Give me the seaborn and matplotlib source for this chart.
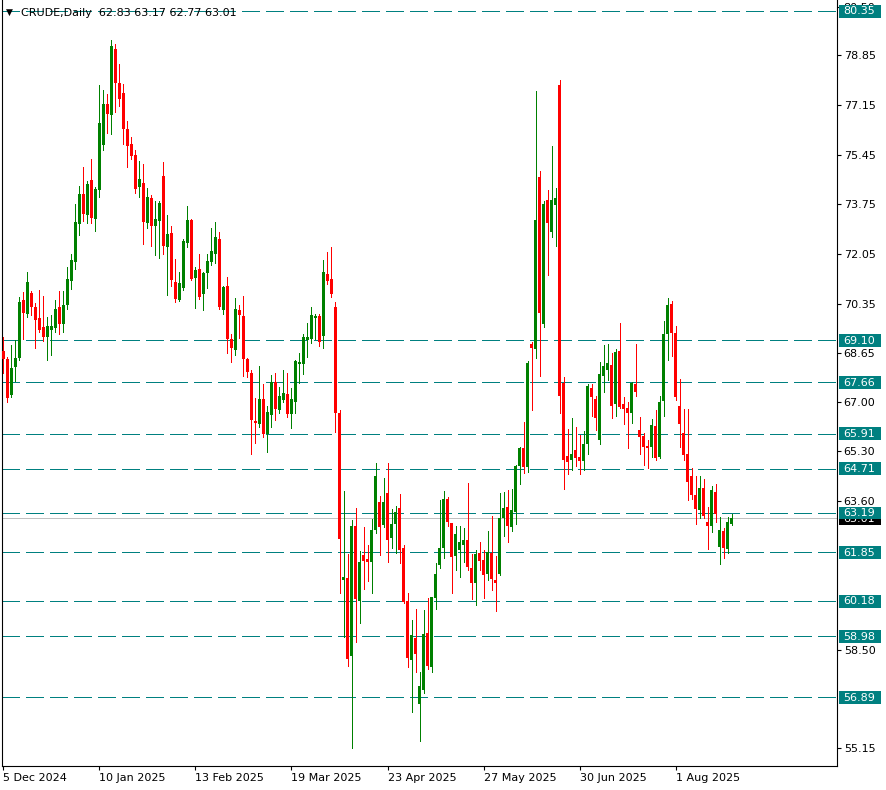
import numpy as np
import pandas as pd
import matplotlib
matplotlib.use("Agg")
import matplotlib.pyplot as plt
import matplotlib.transforms as mtransforms
from matplotlib.patches import Rectangle
import seaborn as sns

# ---------------- data ----------------
open_ = [68.73, 68.45, 67.22, 68.19, 68.50, 70.47, 70.00, 70.71, 70.23, 69.85,
         69.55, 69.22, 69.44, 69.52, 70.23, 69.66, 70.30, 71.13, 71.78, 73.07,
         74.09, 73.38, 74.57, 73.24, 74.23, 75.77, 77.19, 76.79, 79.05, 77.90,
         77.56, 76.33, 75.80, 75.43, 74.35, 74.46, 73.12, 73.95, 73.01, 73.18,
         74.71, 72.30, 72.76, 71.09, 70.47, 70.89, 72.43, 73.21, 71.22, 71.53,
         70.69, 71.41, 71.76, 72.06, 72.56, 70.13, 70.95, 69.13, 68.76, 70.13,
         69.92, 68.45, 67.97, 66.33, 66.24, 67.08, 65.91, 66.55, 67.68, 66.71,
         67.05, 67.26, 66.58, 66.98, 68.28, 68.28, 69.12, 69.14, 69.85, 69.92,
         69.24, 71.37, 71.19, 70.23, 66.61, 60.91, 60.97, 58.31, 62.75, 60.19,
         61.75, 61.62, 61.53, 62.61, 63.57, 62.78, 63.87, 62.34, 62.81, 63.36,
         61.99, 60.20, 58.18, 58.92, 56.67, 57.15, 59.09, 57.94, 60.30, 61.41,
         61.99, 63.67, 62.85, 61.71, 61.94, 62.09, 62.26, 61.33, 60.80, 61.82,
         61.58, 61.11, 61.82, 60.89, 61.11, 63.04, 63.39, 62.72, 63.23, 64.79,
         65.41, 64.77, 68.96, 68.79, 74.67, 69.64, 73.88, 72.79, 73.74, 77.81,
         67.63, 65.13, 65.01, 65.34, 65.11, 64.97, 65.54, 67.48, 67.08, 65.68,
         67.87, 68.10, 68.25, 66.91, 68.72, 66.91, 66.78, 66.62, 67.60, 66.02,
         65.82, 65.49, 65.45, 66.16, 65.11, 67.02, 69.32, 70.33, 69.34, 66.84,
         65.92, 65.20, 64.45, 63.81, 63.29, 64.04, 62.88, 62.74, 63.90, 62.02,
         62.57, 61.96, 62.83]

high = [69.22, 68.53, 68.93, 69.12, 70.58, 70.74, 71.43, 70.79, 70.36, 70.81,
        70.61, 69.88, 69.96, 70.47, 70.79, 70.79, 71.60, 72.04, 73.75, 74.37,
        75.03, 74.55, 75.28, 74.34, 77.82, 77.65, 77.51, 79.38, 79.22, 78.54,
        77.85, 76.60, 76.05, 75.60, 75.22, 75.14, 74.32, 74.08, 73.86, 73.86,
        75.19, 73.38, 73.00, 71.87, 71.43, 72.56, 73.69, 73.23, 71.60, 72.04,
        71.43, 72.04, 72.93, 73.14, 72.80, 70.96, 71.26, 69.31, 70.54, 70.30,
        70.61, 68.50, 68.10, 67.12, 68.21, 67.62, 66.86, 67.90, 67.98, 67.51,
        68.10, 67.98, 67.47, 68.44, 68.68, 69.33, 69.69, 70.24, 69.99, 69.99,
        71.84, 72.11, 72.29, 70.40, 66.70, 63.94, 61.79, 62.95, 63.35, 61.89,
        62.71, 62.10, 62.99, 64.90, 63.79, 64.39, 64.90, 63.33, 63.43, 63.84,
        62.10, 60.46, 59.53, 59.91, 57.75, 59.87, 60.28, 60.32, 61.47, 63.63,
        63.94, 63.74, 62.85, 62.74, 62.74, 62.67, 64.21, 61.78, 61.92, 62.19,
        61.92, 62.57, 63.08, 61.71, 63.89, 63.90, 63.97, 64.00, 64.82, 65.45,
        66.29, 68.38, 69.03, 77.61, 74.88, 73.87, 74.25, 75.73, 74.30, 78.01,
        67.83, 66.07, 66.43, 66.14, 65.85, 65.99, 67.60, 67.60, 67.19, 68.35,
        68.93, 68.96, 68.66, 68.79, 69.68, 67.15, 66.99, 67.68, 68.96, 66.47,
        65.93, 65.68, 66.40, 66.71, 67.19, 69.75, 70.54, 70.43, 69.58, 67.77,
        66.74, 66.74, 64.72, 64.45, 64.45, 64.35, 63.40, 64.12, 64.18, 63.05,
        62.67, 63.05, 63.17]

low = [67.98, 66.99, 67.16, 67.70, 68.42, 69.14, 69.88, 69.98, 68.84, 69.39,
       69.07, 68.42, 68.59, 69.39, 69.31, 69.39, 70.18, 70.86, 71.55, 72.69,
       73.17, 73.11, 73.11, 72.83, 74.00, 75.60, 76.17, 76.14, 76.91, 77.10,
       75.80, 75.03, 75.28, 74.14, 74.00, 72.39, 72.94, 72.32, 72.01, 71.92,
       72.04, 70.64, 70.95, 70.41, 70.45, 70.81, 72.30, 71.16, 70.21, 70.51,
       70.13, 70.88, 71.67, 71.75, 70.16, 69.99, 68.67, 68.36, 68.59, 69.18,
       67.87, 67.85, 65.22, 65.60, 66.12, 65.80, 65.28, 66.14, 66.37, 66.62,
       66.98, 66.48, 66.10, 66.62, 67.64, 67.96, 68.53, 68.99, 69.14, 68.90,
       68.84, 71.04, 70.58, 65.97, 60.47, 58.96, 57.96, 55.17, 58.79, 59.44,
       60.59, 60.87, 60.47, 62.50, 61.75, 62.70, 61.53, 61.99, 61.83, 61.47,
       60.12, 57.93, 56.39, 57.77, 55.41, 57.05, 57.85, 57.77, 59.92, 61.30,
       61.66, 62.75, 60.46, 61.26, 61.01, 61.52, 61.26, 60.25, 60.05, 61.23,
       60.29, 60.90, 60.56, 59.84, 61.06, 62.41, 62.20, 62.58, 62.82, 64.19,
       64.56, 64.60, 66.72, 68.49, 67.87, 69.55, 71.34, 72.63, 72.33, 66.61,
       64.00, 64.53, 64.65, 64.80, 64.54, 64.66, 65.20, 66.50, 66.02, 65.54,
       67.33, 67.73, 66.45, 66.50, 66.78, 66.23, 65.42, 66.27, 67.19, 65.20,
       64.83, 64.72, 65.11, 65.00, 65.08, 66.50, 68.42, 68.55, 67.05, 65.45,
       65.00, 63.63, 63.68, 62.81, 63.01, 63.01, 61.96, 62.54, 62.87, 61.44,
       61.65, 61.82, 62.77]

close = [68.45, 67.13, 68.16, 68.51, 70.40, 70.04, 71.08, 70.24, 69.80, 69.44,
         69.22, 69.58, 69.58, 70.16, 69.66, 70.30, 71.19, 71.84, 73.14, 74.09,
         73.41, 74.44, 73.28, 74.26, 76.52, 77.17, 76.85, 79.15, 77.90, 77.34,
         76.33, 75.75, 75.41, 74.27, 74.61, 73.15, 73.99, 73.01, 73.24, 73.80,
         72.33, 72.73, 71.16, 70.51, 71.05, 72.49, 73.21, 71.19, 71.49, 70.59,
         71.39, 71.81, 72.15, 72.63, 70.24, 70.93, 69.13, 68.83, 70.16, 69.96,
         68.45, 68.02, 66.37, 66.27, 67.08, 65.91, 66.64, 67.68, 66.75, 67.19,
         67.29, 66.57, 67.08, 68.38, 68.35, 69.20, 69.22, 69.97, 69.92, 69.04,
         71.43, 71.13, 70.69, 66.62, 62.32, 61.00, 58.21, 62.75, 60.25, 61.52,
         61.56, 61.52, 62.61, 64.46, 62.72, 63.57, 62.27, 62.81, 63.22, 61.93,
         60.16, 58.23, 59.01, 58.38, 57.28, 59.05, 57.96, 60.32, 61.11, 61.99,
         63.67, 62.89, 61.70, 62.49, 62.19, 62.26, 61.35, 60.80, 61.78, 61.55,
         61.08, 61.86, 60.94, 60.80, 63.04, 63.35, 62.75, 63.29, 64.79, 65.42,
         64.77, 68.32, 68.84, 73.20, 70.03, 73.75, 73.11, 73.88, 73.98, 67.20,
         65.01, 64.93, 65.22, 65.07, 64.97, 65.54, 67.53, 67.16, 66.45, 67.94,
         68.21, 68.31, 66.84, 68.69, 66.82, 66.74, 66.62, 67.64, 67.32, 65.80,
         65.45, 65.42, 66.19, 65.08, 66.98, 69.31, 70.30, 69.35, 67.15, 66.23,
         65.17, 64.25, 63.80, 63.32, 64.04, 63.08, 62.74, 63.97, 63.17, 62.60,
         61.99, 62.88, 63.01]

level_values = [80.35, 69.10, 67.66, 65.91, 64.71, 63.19, 61.85, 60.18, 58.98, 56.89]
last_price = 63.01
ytick_values = [55.15, 58.50, 63.60, 65.30, 67.00, 68.65,
                70.35, 72.05, 73.75, 75.45, 77.15, 78.85, 80.50]
date_labels = ["5 Dec 2024", "10 Jan 2025", "13 Feb 2025", "19 Mar 2025",
               "23 Apr 2025", "27 May 2025", "30 Jun 2025", "1 Aug 2025"]
date_positions = [0, 24, 48, 72, 96, 120, 144, 168]
symbol = "CRUDE,Daily"

# ---------------- style ----------------
sns.set_style("white")
plt.rcParams['font.family'] = ['DejaVu Sans']
plt.rcParams['lines.scale_dashes'] = False

df = pd.DataFrame({"open": open_, "high": high, "low": low, "close": close})
df["idx"] = np.arange(len(df))
df["up"] = df["close"] >= df["open"]
bull, bear = "#008000", "#ff0000"
df["color"] = np.where(df["up"], bull, bear)

W, H = 887, 790
fig = plt.figure(figsize=(W / 100, H / 100), dpi=100)
ax_left, ax_right, ax_bottom_px = 2.5, 837.3, 765.5
ax = fig.add_axes([ax_left / W, 1 - ax_bottom_px / H, (ax_right - ax_left) / W, ax_bottom_px / H])
axw = ax_right - ax_left

px_per_bar = 4.0024
bar0_x = 3.3
ax.set_xlim((ax_left - bar0_x) / px_per_bar, (ax_right - bar0_x) / px_per_bar)
px_per_unit = 29.25
y_top = 80.35 + 11.2 / px_per_unit
ax.set_ylim(y_top - ax_bottom_px / px_per_unit, y_top)

teal = "#008080"
for lv in level_values:
    ax.axhline(lv, color=teal, lw=0.72, linestyle=(0, (12.7, 4.5)), zorder=1, antialiased=False)
ax.axhline(last_price, color="#c0c0c0", lw=0.72, zorder=0.9, antialiased=False)

# candles
ax.vlines(df["idx"], df["low"], df["high"], colors=df["color"], lw=0.72, zorder=2, antialiased=False)
body_bottom = np.minimum(df["open"], df["close"])
body_h = np.maximum(np.abs(df["close"] - df["open"]), 0.04)
ax.bar(df["idx"], body_h, bottom=body_bottom, width=0.74, color=df["color"],
       edgecolor=df["color"], linewidth=0, zorder=3, antialiased=False)

# axes styling
ax.spines["top"].set_visible(False)
for s in ["left", "right", "bottom"]:
    ax.spines[s].set_color("black")
    ax.spines[s].set_linewidth(0.8)
ax.yaxis.tick_right()
ax.set_yticks(ytick_values)
ax.set_yticklabels([f"{v:.2f}" for v in ytick_values])
ax.tick_params(axis="y", direction="out", length=3, width=0.8, pad=1.6,
               labelsize=8, colors="black", right=True, left=False)
ax.set_xticks(date_positions)
ax.set_xticklabels(date_labels, ha="left")
ax.tick_params(axis="x", direction="out", length=3, width=0.8, pad=2.5,
               labelsize=8, colors="black", bottom=True)
ax.grid(False)

# price labels on the right axis
trans = mtransforms.blended_transform_factory(ax.transAxes, ax.transData)
box_h = 12.7 / px_per_unit
box_x = 1 + 1.7 / axw
box_w = 41.7 / axw

def price_label(val, fc, z):
    ax.add_patch(Rectangle((box_x, val - box_h / 2), box_w, box_h, transform=trans,
                           facecolor=fc, edgecolor="none", clip_on=False, zorder=z))
    ax.text(1 + 5.5 / axw, val - 0.01, f"{val:.2f}", transform=trans, color="white",
            fontsize=8, va="center", ha="left", clip_on=False, zorder=z + 0.05)

price_label(last_price, "black", 5)
for lv in level_values:
    price_label(lv, teal, 6)

# header
fig.text(5.5 / W, 1 - 12.5 / H, "\u25BC", fontsize=6.5, va="center", ha="left", color="black")
fig.text(21 / W, 1 - 13 / H,
         f"{symbol}  {open_[-1]:.2f} {high[-1]:.2f} {low[-1]:.2f} {close[-1]:.2f}",
         fontsize=8, va="center", ha="left", color="black")

fig.savefig("out.png", dpi=100)
